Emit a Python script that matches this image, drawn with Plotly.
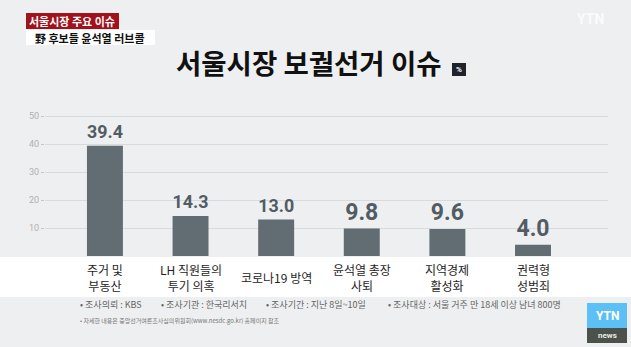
import plotly.graph_objects as go

categories = ["주거 및<br>부동산", "LH 직원들의<br>투기 의혹", "코로나19 방역", "윤석열 총장<br>사퇴", "지역경제<br>활성화", "권력형<br>성범죄"]
values = [39.4, 14.3, 13.0, 9.8, 9.6, 4.0]
y_ticks = [10, 20, 30, 40, 50]

W, H = 631, 347
KR = "Noto Sans CJK KR"

def py(p):
    return (H - p) / H

def px(p):
    return p / W

fig = go.Figure()
fig.add_trace(go.Bar(
    x=categories, y=values, width=0.42,
    marker=dict(color="#616c73", line=dict(width=0)),
    text=[f"{v:.1f}" for v in values], textposition="outside",
    textfont=dict(family="Roboto", size=23, color="#525c63", weight="bold"),
    cliponaxis=False,
))

fig.update_layout(
    width=W, height=H, margin=dict(l=0, r=0, t=0, b=0),
    paper_bgcolor="#eeeff0", plot_bgcolor="rgba(0,0,0,0)",
    showlegend=False, font=dict(family=KR),
    xaxis=dict(type="category", range=[-0.70, 5.876], domain=[px(45), px(608)],
               showgrid=False, zeroline=False, showline=False, ticks="",
               showticklabels=False),
    yaxis=dict(range=[0, 55], domain=[py(256), py(102)], tickvals=y_ticks,
               showgrid=True, gridcolor="#d9dadb", gridwidth=1, zeroline=False,
               showline=False, ticks="outside", ticklen=3, tickcolor="#c4c4c4",
               tickfont=dict(family="Roboto", size=9, color="#b0b0b0")),
)

shapes = [
    dict(type="rect", xref="paper", yref="paper", x0=0, x1=1, y0=py(297), y1=py(257),
         fillcolor="white", line=dict(width=0), layer="below"),
    dict(type="rect", xref="paper", yref="paper", x0=px(26), x1=px(119), y0=py(29), y1=py(13),
         fillcolor="#a0121c", line=dict(width=0)),
    dict(type="rect", xref="paper", yref="paper", x0=px(26), x1=px(155), y0=py(45), y1=py(30),
         fillcolor="white", line=dict(width=0)),
    dict(type="rect", xref="paper", yref="paper", x0=px(452), x1=px(466), y0=py(76), y1=py(63),
         fillcolor="#1f232b", line=dict(width=0)),
    dict(type="rect", xref="paper", yref="paper", x0=px(587), x1=px(627), y0=py(328), y1=py(303),
         fillcolor="#5cbff5", line=dict(width=0)),
    dict(type="rect", xref="paper", yref="paper", x0=px(587), x1=px(627), y0=py(343), y1=py(328),
         fillcolor="#4b5249", line=dict(width=0)),
]
fig.update_layout(shapes=shapes)

def ann(text, x, y, size, color, xanchor="left", family=KR, weight="normal"):
    fig.add_annotation(text=text, x=px(x), y=py(y), xref="paper", yref="paper",
                       xanchor=xanchor, yanchor="middle", showarrow=False,
                       font=dict(family=family, size=size, color=color, weight=weight))

# category labels positioned through the x axis scale
for c in categories:
    fig.add_annotation(text=c, x=c, xref="x", y=py(277), yref="paper",
                       xanchor="center", yanchor="middle", showarrow=False,
                       font=dict(family=KR, size=12, color="#1e1e1e"))

ann("서울시장 주요 이슈", 72, 21, 11, "white", "center", weight="bold")
ann("野 후보들 윤석열 러브콜", 90, 37.5, 11, "#111111", "center", weight="bold")
ann("서울시장 보궐선거 이슈", 308, 62, 27.5, "#111111", "center", weight="bold")
ann("%", 459, 69.5, 8, "white", "center", family="Roboto", weight="bold")
ann("YTN", 590, 19, 14, "rgba(255,255,255,0.75)", "center", family="Roboto", weight="bold")

ann("• 조사의뢰 : KBS", 78, 304, 9, "#666666")
ann("• 조사기관 : 한국리서치", 159, 304, 9, "#666666")
ann("• 조사기간 : 지난 8일~10일", 264, 304, 9, "#666666")
ann("• 조사대상 : 서울 거주 만 18세 이상 남녀 800명", 386, 304, 9, "#666666")
ann("• 자세한 내용은 중앙선거여론조사심의위원회(www.nesdc.go.kr) 홈페이지 참조", 78, 320, 6, "#777777")

ann("YTN", 607, 316, 12, "white", "center", family="Roboto", weight="bold")
ann("news", 607, 335.5, 8, "#e8e8e8", "center", family="Roboto", weight="bold")

fig.write_html("out.html")
